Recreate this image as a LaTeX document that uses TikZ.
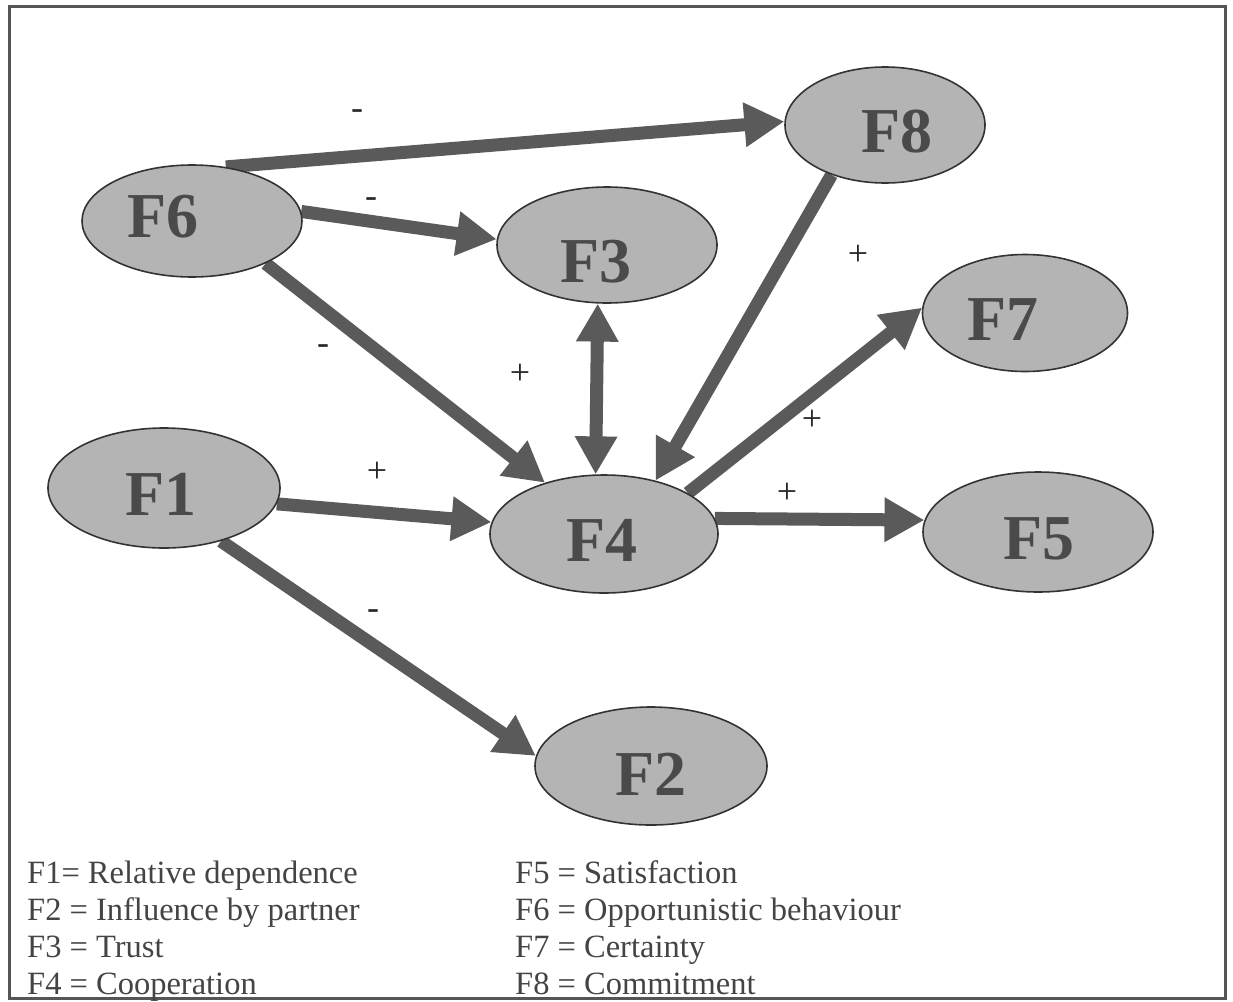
\documentclass[tikz,border=0pt]{standalone}
\usepackage{fontspec}
\setmainfont{Liberation Serif}
\usetikzlibrary{shapes.geometric,arrows.meta,backgrounds}
\definecolor{nodefill}{HTML}{B4B4B4}
\definecolor{nodeline}{HTML}{333333}
\definecolor{nodetext}{HTML}{4A4A4A}
\definecolor{arrowcol}{HTML}{5A5A5A}
\definecolor{legendtext}{HTML}{444444}
\definecolor{framecol}{HTML}{555555}
\tikzset{
  factor/.style={ellipse, draw=nodeline, line width=1.6pt, fill=nodefill, inner sep=0pt},
  ftext/.style={text=nodetext, inner sep=0pt, font=\fontsize{64}{64}\selectfont\bfseries},
  bigarrow/.style={draw=arrowcol, line width=13pt,
    -{Triangle[length=40pt,width=42pt]}, arrowcol},
  bothbig/.style={draw=arrowcol, line width=13pt,
    {Triangle[length=38pt,width=40pt]}-{Triangle[length=38pt,width=40pt]}, arrowcol},
  sign/.style={font=\fontsize{36}{36}\selectfont, text=black!85, inner sep=0pt},
  legend/.style={anchor=base west, font=\fontsize{32.5}{32.5}\selectfont, text=legendtext, inner sep=0pt}
}
\begin{document}
\begin{tikzpicture}[x=1pt,y=-1pt]
\useasboundingbox (0,0) rectangle (1233,1001);
\draw[framecol, line width=3pt] (9,6) rectangle (1225,998);

\node[factor, minimum width=220pt, minimum height=112pt] (F6) at (192,221) {};
\node[factor, minimum width=200pt, minimum height=116pt] (F8) at (885,125) {};
\node[factor, minimum width=220pt, minimum height=116pt] (F3) at (607,245) {};
\node[factor, minimum width=205pt, minimum height=117pt] (F7) at (1025,313) {};
\node[factor, minimum width=232pt, minimum height=120pt] (F1) at (164,488) {};
\node[factor, minimum width=228pt, minimum height=118pt] (F4) at (604,534) {};
\node[factor, minimum width=230pt, minimum height=120pt] (F5) at (1038,532) {};
\node[factor, minimum width=232pt, minimum height=118pt] (F2) at (651,766) {};

\node[ftext] (t6) at (163,217) {F6};
\node[ftext] (t8) at (897,132) {F8};
\node[ftext] (t3) at (596,262) {F3};
\node[ftext] (t7) at (1003,320) {F7};
\node[ftext] (t1) at (161,494) {F1};
\node[ftext] (t4) at (602,540) {F4};
\node[ftext] (t5) at (1039,539) {F5};
\node[ftext] (t2) at (651,774) {F2};

\begin{pgfonlayer}{background}
\draw[bigarrow] (F6.58) -- (F8.178);
\draw[bigarrow] (F6.5) -- (F3.177);
\draw[bigarrow] (F6.-30) -- (F4.139);
\draw[bigarrow] (F1.-8) -- (F4.174);
\draw[bigarrow] (F1.-43) -- (F2.175);
\draw[bothbig] (F3.261) -- (F4.98);
\draw[bigarrow] (F8.223) -- (F4.46);
\draw[bigarrow] (F4.26) -- (F7.177);
\draw[bigarrow] (F4.8) -- (F5.174);
\end{pgfonlayer}

\node[sign] (s1) at (357,115) {-};
\node[sign] (s2) at (371,203) {-};
\node[sign] (s3) at (323,350) {-};
\node[sign] (s4) at (377,472) {+};
\node[sign] (s5) at (373,615) {-};
\node[sign] (s6) at (520,374) {+};
\node[sign] (s7) at (858,255) {+};
\node[sign] (s8) at (812,420) {+};
\node[sign] (s9) at (787,493) {+};

\node[legend] (l1) at (27,883) {F1= Relative dependence};
\node[legend] (l2) at (27,920) {F2 = Influence by partner};
\node[legend] (l3) at (27,957) {F3 = Trust};
\node[legend] (l4) at (27,994) {F4 = Cooperation};
\node[legend] (l5) at (515,883) {F5 = Satisfaction};
\node[legend] (l6) at (515,920) {F6 = Opportunistic behaviour};
\node[legend] (l7) at (515,957) {F7 = Certainty};
\node[legend] (l8) at (515,994) {F8 = Commitment};
\end{tikzpicture}
\end{document}
